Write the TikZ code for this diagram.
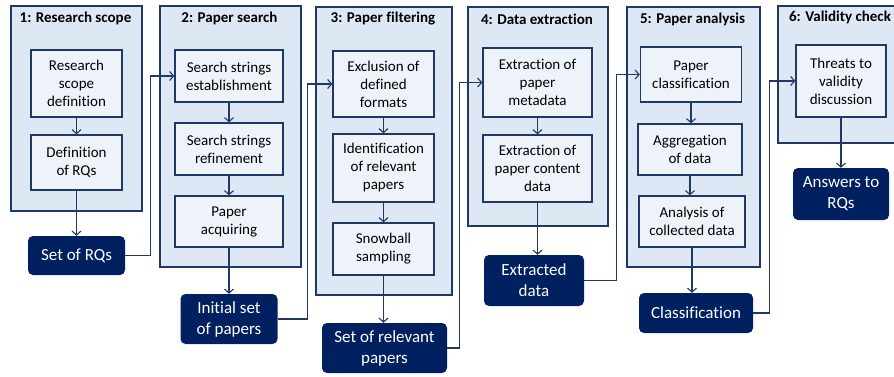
\documentclass[tikz,border=0pt]{standalone}
\usepackage{fontspec}
\setmainfont{Carlito}[Ligatures=NoCommon]
\usetikzlibrary{arrows.meta}

\definecolor{navy}{HTML}{203864}
\definecolor{darknavy}{HTML}{002060}
\definecolor{stagefill}{HTML}{DEE7F4}
\definecolor{stepfill}{HTML}{EEF3FA}

\begin{document}
\begin{tikzpicture}
  [x=1pt,y=-1pt,>={Straight Barb[length=4pt,width=9pt]},
   stage/.style={draw=navy,line width=1.8pt,fill=stagefill,anchor=north west,inner sep=0pt},
   title/.style={font=\fontsize{15}{18}\selectfont\bfseries},
   stepbox/.style={draw=navy,line width=1.3pt,fill=stepfill,inner sep=0pt,align=center,font=\fontsize{15}{18}\selectfont},
   result/.style={fill=darknavy,rounded corners=5pt,text=white,inner sep=0pt,align=center,font=\fontsize{17}{21}\selectfont},
   link/.style={draw=navy,line width=1.1pt,->}]
  \useasboundingbox (0,0) rectangle (894,377);

  % stages
  \node[stage,minimum width=131pt,minimum height=205pt] (st1) at (10,5) {};
  \node[stage,minimum width=141pt,minimum height=261pt] (st2) at (159,5) {};
  \node[stage,minimum width=136pt,minimum height=288pt] (st3) at (315,6) {};
  \node[stage,minimum width=140pt,minimum height=219pt] (st4) at (467,6) {};
  \node[stage,minimum width=133pt,minimum height=260pt] (st5) at (626,6) {};
  \node[stage,minimum width=130pt,minimum height=137pt] (st6) at (777,5) {};

  \node[title] (t1) at (75.5,18) {1: Research scope};
  \node[title] (t2) at (229.5,18) {2: Paper search};
  \node[title] (t3) at (383,19) {3: Paper filtering};
  \node[title] (t4) at (537,19) {4: Data extraction};
  \node[title] (t5) at (692.5,19) {5: Paper analysis};
  \node[title] (t6) at (840,17) {6: Validity check};

  % steps
  \node[stepbox,minimum width=91pt,minimum height=67pt] (r1a) at (76.5,83.5) {Research\\scope\\definition};
  \node[stepbox,minimum width=91pt,minimum height=55pt] (r1b) at (76.5,162.5) {Definition\\of RQs};
  \node[stepbox,minimum width=108pt,minimum height=52pt] (r2a) at (229,76) {Search strings\\establishment};
  \node[stepbox,minimum width=108pt,minimum height=52pt] (r2b) at (229,149) {Search strings\\refinement};
  \node[stepbox,minimum width=108pt,minimum height=51pt] (r2c) at (229,221.5) {Paper\\acquiring};
  \node[stepbox,minimum width=101pt,minimum height=66pt] (r3a) at (383.5,84) {Exclusion of\\defined\\formats};
  \node[stepbox,minimum width=101pt,minimum height=68pt] (r3b) at (383.5,168) {Identification\\of relevant\\papers};
  \node[stepbox,minimum width=101pt,minimum height=52pt] (r3c) at (383.5,249) {Snowball\\sampling};
  \node[stepbox,minimum width=109pt,minimum height=69pt] (r4a) at (537.5,82.5) {Extraction of\\paper\\metadata};
  \node[stepbox,minimum width=109pt,minimum height=67pt] (r4b) at (537.5,168.5) {Extraction of\\paper content\\data};
  \node[stepbox,minimum width=101pt,minimum height=55pt] (r5a) at (691,74.5) {Paper\\classification};
  \node[stepbox,minimum width=104pt,minimum height=51pt] (r5b) at (690,149.5) {Aggregation\\of data};
  \node[stepbox,minimum width=106pt,minimum height=51pt] (r5c) at (692,221.5) {Analysis of\\collected data};
  \node[stepbox,minimum width=90pt,minimum height=72pt] (r6a) at (841,81) {Threats to\\validity\\discussion};

  % results
  \node[result,minimum width=97pt,minimum height=39pt] (o1) at (76.5,255.5) {Set of RQs};
  \node[result,minimum width=97pt,minimum height=50pt] (o2) at (229,319) {Initial set\\of papers};
  \node[result,minimum width=125pt,minimum height=50pt] (o3) at (384.5,348) {Set of relevant\\papers};
  \node[result,minimum width=100pt,minimum height=51pt] (o4) at (534,280.5) {Extracted\\data};
  \node[result,minimum width=114pt,minimum height=40pt] (o5) at (696,313) {Classification};
  \node[result,minimum width=96pt,minimum height=52pt] (o6) at (841,194) {Answers to\\RQs};

\foreach \from/\to in
{r1a/r1b, r1b/o1, r2a/r2b, r2b/r2c, r2c/o2, r3a/r3b, r3b/r3c, r3c/o3,
 r4a/r4b, r4b/o4, r5a/r5b, r5b/r5c, r5c/o5, r6a/o6}
    \draw[link] (\from.south) -- (\from.south |- \to.north);
\foreach \from/\to/\dx in
{o1/r2a/25, o2/r3a/30, o3/r4a/12, o4/r5a/32, o5/r6a/16}
    \draw[link] (\from.east) -- ++(\dx,0) |- (\to.west);
\end{tikzpicture}
\end{document}
